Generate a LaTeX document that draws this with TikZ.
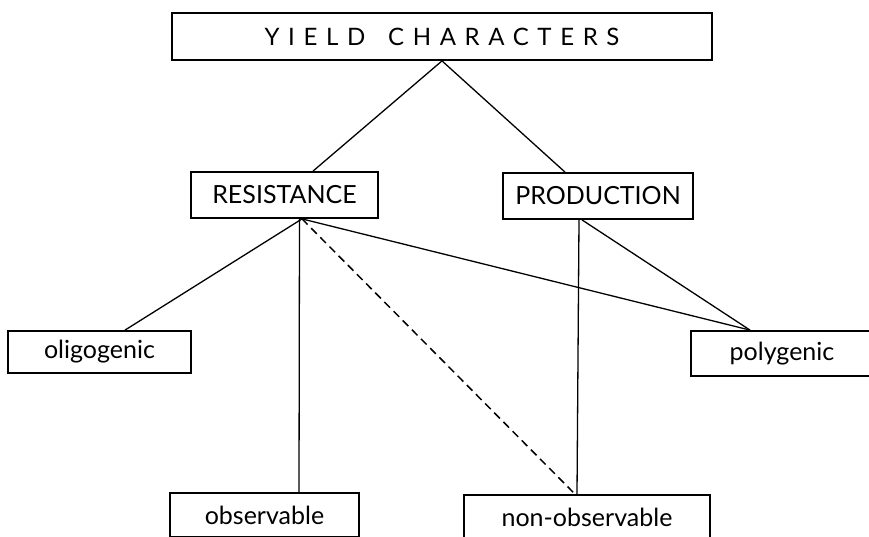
\documentclass[tikz,border=0pt]{standalone}
\usepackage{fontspec}
\setmainfont{Lato}
\usetikzlibrary{calc}
\begin{document}
\begin{tikzpicture}[x=1pt,y=-1pt,
  box/.style={draw=black,line width=1.8pt,inner sep=0pt,anchor=center,
    font=\fontsize{25}{30}\selectfont},
  conn/.style={draw=black,line width=1.3pt},
  dconn/.style={conn,line width=1.5pt,dash pattern=on 8pt off 5pt}]
\useasboundingbox (0,0) rectangle (869,536);
\clip (0,0) rectangle (869,536);
\fill[white] (0,0) rectangle (869,536);
\node[box,minimum width=540pt,minimum height=47pt] (top) at (442,36.5)
  {\fontsize{24}{28}\selectfont\addfontfeature{LetterSpace=36}YIELD\hspace{8pt} CHARACTERS\hspace{-8pt}};
\node[box,minimum width=187pt,minimum height=46pt] (res) at (284.5,195) {RESISTANCE};
\node[box,minimum width=190pt,minimum height=46pt] (prod) at (598,196) {PRODUCTION};
\node[box,minimum width=183pt,minimum height=42pt] (olig) at (99.5,352) {oligogenic};
\node[box,minimum width=182pt,minimum height=45pt] (poly) at (782,353.5) {polygenic};
\node[box,minimum width=189pt,minimum height=44pt] (obs) at (264.5,515) {observable};
\node[box,minimum width=246pt,minimum height=44pt] (nonobs) at (587,517) {non-observable};
\draw[conn] (top.south) -- ([xshift=28.5pt]res.north);
\draw[conn] (top.south) -- ([xshift=-33pt]prod.north);
\draw[conn] ([xshift=17.5pt]res.south) -- ([xshift=25.5pt]olig.north);
\draw[conn] ([xshift=15pt]res.south) -- ([xshift=34.5pt]obs.north);
\draw[dconn] ([xshift=17.5pt]res.south) -- ([xshift=-12pt]nonobs.north);
\draw[conn] ([xshift=17.5pt]res.south) -- ([xshift=-32pt]poly.north);
\draw[conn] ([xshift=-19pt]prod.south) -- ([xshift=-10pt]nonobs.north);
\draw[conn] ([xshift=-16pt]prod.south) -- ([xshift=-32pt]poly.north);
\end{tikzpicture}
\end{document}
